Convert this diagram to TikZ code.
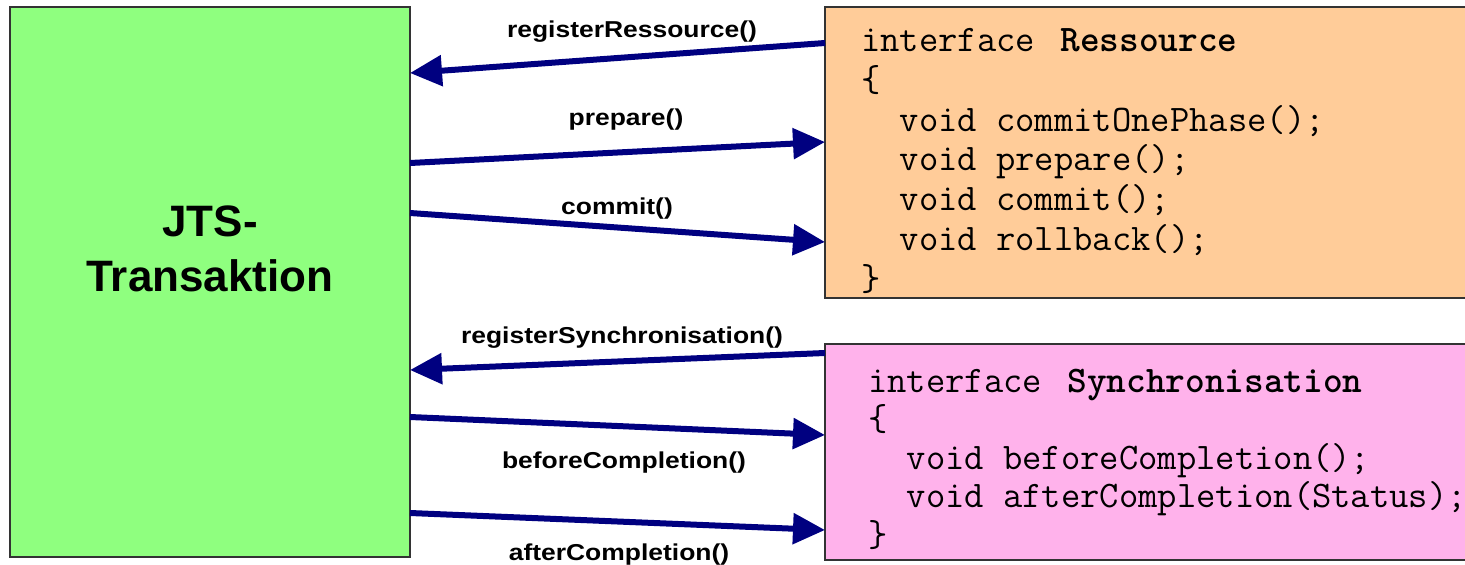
\documentclass[tikz,border=0pt]{standalone}
\usepackage{fontspec}
\newfontfamily\titlefont{Liberation Sans}
\newfontfamily\labelfont{Liberation Sans}[FakeStretch=1.15]
\usetikzlibrary{arrows.meta}

\definecolor{jtsgreen}{RGB}{143,255,127}
\definecolor{respeach}{RGB}{255,204,153}
\definecolor{synpink}{RGB}{255,178,235}
\definecolor{callblue}{RGB}{0,0,128}

\tikzset{
    box/.style={draw=black!80, line width=1.2pt, inner sep=0pt, outer sep=0pt},
    call/.style={-{Triangle[length=32pt,width=30pt]}, line width=6pt, draw=callblue},
    calllabel/.style={font=\labelfont\bfseries\fontsize{23}{27}\selectfont, anchor=base, inner sep=0pt},
    codetext/.style={font=\ttfamily\fontsize{37.5}{39.7}\selectfont, align=left, anchor=base west, inner sep=0pt}
}

\begin{document}
\begin{tikzpicture}[x=1pt,y=-1pt]
    \useasboundingbox (0,0) rectangle (1465,565);
    % boxes
    \node [box, fill=jtsgreen, minimum width=400pt, minimum height=550pt] (jts) at (210,282) {};
    \node [box, fill=respeach, minimum width=655pt, minimum height=291pt] (res) at (1152.5,152.5) {};
    \node [box, fill=synpink, minimum width=655pt, minimum height=216pt] (syn) at (1152.5,452) {};
    \node [font=\titlefont\bfseries\fontsize{44}{55}\selectfont, align=center] (jtstitle) at (210,248.5) {JTS-\\Transaktion};
    % interfaces (base = last line)
    \node [codetext] (rescode) at (861,290) {interface\ \hspace{6pt}\textbf{Ressource}\\
        \{\\
        \phantom{xx}void commitOnePhase();\\
        \phantom{xx}void prepare();\\
        \phantom{xx}void commit();\\
        \phantom{xx}void rollback();\\
        \}};
    \node [codetext, font=\ttfamily\fontsize{37.5}{38.5}\selectfont] (syncode) at (868,546) {interface\ \hspace{6pt}\textbf{Synchronisation}\\
        \{\\
        \phantom{xx}void beforeCompletion();\\
        \phantom{xx}void afterCompletion(Status);\\
        \}};
    % calls
    \draw [call] ([yshift=-36pt]res.north west) -- ([yshift=-66pt]jts.north east);
    \draw [call] ([yshift=-156pt]jts.north east) -- ([yshift=-135pt]res.north west);
    \draw [call] ([yshift=-206pt]jts.north east) -- ([yshift=-235pt]res.north west);
    \draw [call] ([yshift=-9pt]syn.north west) -- ([yshift=-363pt]jts.north east);
    \draw [call] ([yshift=-410pt]jts.north east) -- ([yshift=-91pt]syn.north west);
    \draw [call] ([yshift=-506pt]jts.north east) -- ([yshift=-186pt]syn.north west);
    \node [calllabel] (lregres) at (632,37) {registerRessource()};
    \node [calllabel] (lprepare) at (626,125) {prepare()};
    \node [calllabel] (lcommit) at (617,214) {commit()};
    \node [calllabel] (lregsyn) at (622,343) {registerSynchronisation()};
    \node [calllabel] (lbefore) at (624,468) {beforeCompletion()};
    \node [calllabel] (lafter) at (619,560) {afterCompletion()};
\end{tikzpicture}
\end{document}
